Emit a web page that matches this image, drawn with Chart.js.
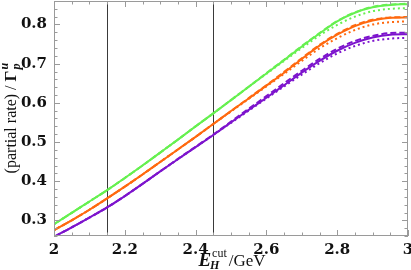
<!DOCTYPE html>
<html><head><meta charset="utf-8">
<script src="https://cdn.jsdelivr.net/npm/chart.js@4"></script>
<style>html,body{margin:0;padding:0;background:#fff}#w{width:411px;height:270px}</style>
</head><body><div id="w"><canvas id="c" width="411" height="270"></canvas></div>
<script>
const energies = [2.0,2.05,2.1,2.15,2.2,2.25,2.3,2.35,2.4,2.45,2.5,2.55,2.6,2.65,2.7,2.75,2.8,2.85,2.9,2.95,3.0];
const greenSolid  = [0.290,0.319,0.348,0.377,0.408,0.440,0.473,0.506,0.540,0.573,0.607,0.641,0.675,0.709,0.744,0.777,0.808,0.830,0.844,0.850,0.852];
const greenDashed = [0.290,0.319,0.348,0.377,0.408,0.440,0.473,0.506,0.540,0.573,0.607,0.641,0.676,0.710,0.745,0.778,0.809,0.831,0.845,0.851,0.853];
const greenDotted = [0.290,0.319,0.348,0.377,0.408,0.440,0.473,0.506,0.540,0.573,0.607,0.641,0.674,0.707,0.740,0.772,0.799,0.820,0.834,0.840,0.842];
const orangeSolid  = [0.275,0.300,0.327,0.356,0.386,0.417,0.449,0.481,0.513,0.546,0.579,0.611,0.644,0.677,0.712,0.746,0.774,0.796,0.810,0.817,0.818];
const orangeDashed = [0.275,0.300,0.327,0.356,0.386,0.417,0.449,0.481,0.513,0.546,0.579,0.612,0.645,0.679,0.714,0.748,0.776,0.798,0.812,0.818,0.819];
const orangeDotted = [0.275,0.300,0.327,0.356,0.386,0.417,0.449,0.481,0.513,0.546,0.578,0.610,0.642,0.674,0.707,0.739,0.765,0.786,0.800,0.806,0.808];
const purpleSolid  = [0.258,0.282,0.307,0.333,0.362,0.393,0.425,0.456,0.487,0.518,0.550,0.582,0.613,0.645,0.677,0.707,0.733,0.753,0.767,0.774,0.775];
const purpleDashed = [0.258,0.282,0.307,0.333,0.362,0.393,0.425,0.457,0.488,0.519,0.552,0.585,0.617,0.650,0.682,0.712,0.738,0.758,0.771,0.778,0.779];
const purpleDotted = [0.258,0.282,0.307,0.333,0.362,0.393,0.425,0.456,0.487,0.518,0.549,0.580,0.611,0.642,0.672,0.701,0.726,0.745,0.758,0.764,0.766];
const cutLines = [2.15, 2.45];
const xTicks = [2.0,2.2,2.4,2.6,2.8,3.0];
const yTicks = [0.3,0.4,0.5,0.6,0.7,0.8];
const xMinor = 0.05, yMinor = 0.02;
const X_MIN = 2, X_MAX = 3, Y_MIN = 0.26, Y_MAX = 0.86;

const GREEN = 'rgb(102,240,80)', ORANGE = 'rgb(255,105,15)', PURPLE = 'rgb(125,20,205)';
const TICK_FONT = {family:'"DejaVu Serif"', weight:'bold', size:15};
const pts = ys => energies.map((x,i)=>({x, y: ys[i]}));
function ds(ys, color, dash){
  return {data: pts(ys), borderColor: color, borderWidth: 2, borderDash: dash, pointRadius: 0,
          cubicInterpolationMode: 'monotone', fill: false};
}
const datasets = [];
datasets.push(
  ds(purpleDotted, PURPLE, [2,3]), ds(purpleDashed, PURPLE, [6,3]), ds(purpleSolid, PURPLE, []),
  ds(orangeDotted, ORANGE, [2,3]), ds(orangeDashed, ORANGE, [6,3]), ds(orangeSolid, ORANGE, []),
  ds(greenDotted, GREEN, [2,3]), ds(greenDashed, GREEN, [6,3]), ds(greenSolid, GREEN, [])
);

const framePlugin = {
  id: 'frame',
  beforeDatasetsDraw(chart){
    const {ctx, chartArea: a, scales:{x}} = chart;
    ctx.save();
    ctx.strokeStyle = '#3a3a3a'; ctx.lineWidth = 1;
    cutLines.forEach(v => {
      const px = Math.round(x.getPixelForValue(v)) + 0.5;
      ctx.beginPath(); ctx.moveTo(px, a.top); ctx.lineTo(px, a.bottom); ctx.stroke();
    });
    ctx.restore();
  },
  afterDatasetsDraw(chart){
    const {ctx, chartArea: a, scales:{x, y}} = chart;
    ctx.save();
    ctx.strokeStyle = '#9a9a9a'; ctx.lineWidth = 1;
    ctx.strokeRect(a.left+0.5, a.top+0.5, a.right-a.left-1, a.bottom-a.top-1);
    const tick = (len, px, horizontal) => {
      ctx.beginPath();
      if (horizontal) {
        ctx.moveTo(px, a.bottom); ctx.lineTo(px, a.bottom-len);
        ctx.moveTo(px, a.top); ctx.lineTo(px, a.top+len);
      } else {
        ctx.moveTo(a.left, px); ctx.lineTo(a.left+len, px);
        ctx.moveTo(a.right, px); ctx.lineTo(a.right-len, px);
      }
      ctx.stroke();
    };
    const nx = Math.round((X_MAX-X_MIN)/xMinor);
    for (let i=0;i<=nx;i++){
      const v = X_MIN + i*xMinor;
      const major = xTicks.some(t=>Math.abs(t-v)<1e-6);
      tick(major?6:3.5, Math.round(x.getPixelForValue(v))+0.5, true);
    }
    const ny = Math.round((Y_MAX-Y_MIN)/yMinor);
    for (let i=0;i<=ny;i++){
      const v = Y_MIN + i*yMinor;
      const major = yTicks.some(t=>Math.abs(t-v)<1e-6);
      tick(major?6:3.5, Math.round(y.getPixelForValue(v))+0.5, false);
    }
    ctx.restore();
  },
  afterDraw(chart){
    const {ctx} = chart;
    ctx.save();
    ctx.fillStyle = '#111';
    ctx.translate(12, 118);
    ctx.rotate(-Math.PI/2);
    ctx.textBaseline = 'middle';
    ctx.textAlign = 'left';
    const p1 = '(partial rate) / ';
    ctx.font = '16px "Liberation Serif"';
    const w1 = ctx.measureText(p1).width;
    ctx.font = 'bold 17px "Liberation Serif"';
    const w2 = ctx.measureText('Γ').width;
    const total = w1 + w2 + 8;
    let cx = -total/2;
    ctx.font = '16px "Liberation Serif"';
    ctx.fillText(p1, cx, 0); cx += w1;
    ctx.font = 'bold 17px "Liberation Serif"';
    ctx.fillText('Γ', cx, 0); cx += w2;
    ctx.font = 'italic bold 12px "Liberation Serif"';
    ctx.fillText('u', cx+1, -7);
    ctx.fillText('p', cx+1, 5);
    ctx.restore();
    ctx.save();
    ctx.fillStyle = '#111';
    ctx.textBaseline = 'alphabetic';
    ctx.textAlign = 'left';
    const base = 266;
    ctx.font = 'italic bold 19px "Liberation Serif"';
    const we = ctx.measureText('E').width;
    ctx.font = '12px "Liberation Serif"';
    const wc = ctx.measureText('cut').width;
    ctx.font = '17px "Liberation Serif"';
    const wg = ctx.measureText('/GeV').width;
    const totalX = we + wc + 3 + wg;
    let x0 = 232 - totalX/2;
    ctx.font = 'italic bold 19px "Liberation Serif"';
    ctx.fillText('E', x0, base);
    ctx.font = '12px "Liberation Serif"';
    ctx.fillText('cut', x0+we+1, base-9);
    ctx.font = 'italic bold 12px "Liberation Serif"';
    ctx.fillText('H', x0+we-1, base+3);
    ctx.font = '17px "Liberation Serif"';
    ctx.fillText('/GeV', x0+we+wc+3, base);
    ctx.restore();
  }
};

new Chart(document.getElementById('c'), {
  type: 'line',
  data: { datasets },
  options: {
    responsive: false, animation: false, devicePixelRatio: 1,
    layout: { padding: { top: 1, right: 3, left: 0, bottom: 0 } },
    plugins: { legend: {display:false}, tooltip: {enabled:false} },
    scales: {
      x: {
        type: 'linear', min: X_MIN, max: X_MAX,
        grid: {display:false, drawTicks:false}, border: {display:false},
        afterBuildTicks: s => { s.ticks = xTicks.map(v=>({value:v})); },
        afterFit: s => { s.height = 34; s.paddingRight = 0; s.paddingLeft = 0; },
        ticks: { padding: 5, color:'#111', font: TICK_FONT,
                 callback: v => String(Number(v.toFixed(1))), maxRotation:0, autoSkip:false }
      },
      y: {
        type: 'linear', min: Y_MIN, max: Y_MAX,
        grid: {display:false, drawTicks:false}, border: {display:false},
        afterBuildTicks: s => { s.ticks = yTicks.map(v=>({value:v})); },
        afterFit: s => { s.width = 54; s.paddingTop = 0; s.paddingBottom = 0; },
        ticks: { padding: 7, color:'#111', font: TICK_FONT,
                 callback: v => v.toFixed(1), autoSkip:false }
      }
    }
  },
  plugins: [framePlugin]
});
</script></body></html>
